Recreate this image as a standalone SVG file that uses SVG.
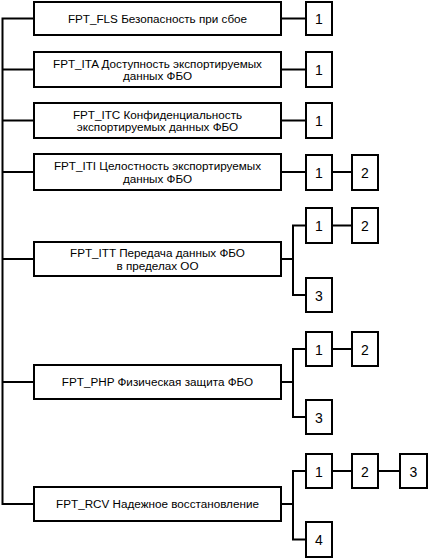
<svg xmlns="http://www.w3.org/2000/svg" width="429" height="559" viewBox="0 0 429 559">
<style>
.b{fill:#fff;stroke:#000;stroke-width:2}
.t{font-family:"Liberation Sans",Arial,sans-serif;font-size:11.7px;fill:#000;text-anchor:middle}
.n{font-family:"Liberation Sans",Arial,sans-serif;font-size:14px;fill:#000;text-anchor:middle}
.c{fill:none;stroke:#000;stroke-width:2}
</style>
<rect width="429" height="559" fill="#fff"/>
<g id="connectors" class="c">
<path d="M34 18.5H2.5V504H34"/>
<path d="M2.5 69.5H34M2.5 120.5H34M2.5 172H34M2.5 259H34M2.5 382H34"/>
<path d="M281 18.5H306M281 69.5H306M281 120.5H306M281 172H306M332 172H352"/>
<path d="M281 259H293M306 225.5H293V295H306M332 225.5H352"/>
<path d="M281 382H293M306 349H293V417H306M332 349H352"/>
<path d="M281 504H293M306 471H293V539.5H306M332 471H352M378 471H400"/>
</g>
<g id="fls">
<rect class="b" x="34" y="2" width="247" height="33"/>
<text class="t" x="157.5" y="22.5">FPT_FLS Безопасность при сбое</text>
</g>
<g id="fls1"><rect class="b" x="306" y="2" width="26" height="33"/><text class="n" x="319" y="24">1</text></g>
<g id="ita">
<rect class="b" x="34" y="52" width="247" height="35"/>
<text class="t" x="157.5" y="67.5">FPT_ITA Доступность экспортируемых</text>
<text class="t" x="157.5" y="80">данных ФБО</text>
</g>
<g id="ita1"><rect class="b" x="306" y="52" width="26" height="35"/><text class="n" x="319" y="75">1</text></g>
<g id="itc">
<rect class="b" x="34" y="103" width="247" height="35"/>
<text class="t" x="157.5" y="118.5">FPT_ITC Конфиденциальность</text>
<text class="t" x="157.5" y="131">экспортируемых данных ФБО</text>
</g>
<g id="itc1"><rect class="b" x="306" y="103" width="26" height="35"/><text class="n" x="319" y="126">1</text></g>
<g id="iti">
<rect class="b" x="34" y="154" width="247" height="36"/>
<text class="t" x="157.5" y="170">FPT_ITI Целостность экспортируемых</text>
<text class="t" x="157.5" y="182.5">данных ФБО</text>
</g>
<g id="iti1"><rect class="b" x="306" y="155" width="26" height="35"/><text class="n" x="319" y="178">1</text></g>
<g id="iti2"><rect class="b" x="352" y="155" width="26" height="35"/><text class="n" x="365" y="178">2</text></g>
<g id="itt">
<rect class="b" x="34" y="242" width="247" height="34"/>
<text class="t" x="157.5" y="257">FPT_ITT Передача данных ФБО</text>
<text class="t" x="157.5" y="269.5">в пределах ОО</text>
</g>
<g id="itt1"><rect class="b" x="306" y="208" width="26" height="35"/><text class="n" x="319" y="231">1</text></g>
<g id="itt2"><rect class="b" x="352" y="208" width="26" height="35"/><text class="n" x="365" y="231">2</text></g>
<g id="itt3"><rect class="b" x="306" y="278" width="26" height="34"/><text class="n" x="319" y="300.5">3</text></g>
<g id="php">
<rect class="b" x="34" y="365" width="247" height="34"/>
<text class="t" x="157.5" y="386">FPT_PHP Физическая защита ФБО</text>
</g>
<g id="php1"><rect class="b" x="306" y="332" width="26" height="34"/><text class="n" x="319" y="354.5">1</text></g>
<g id="php2"><rect class="b" x="352" y="332" width="26" height="34"/><text class="n" x="365" y="354.5">2</text></g>
<g id="php3"><rect class="b" x="306" y="400" width="26" height="34"/><text class="n" x="319" y="422.5">3</text></g>
<g id="rcv">
<rect class="b" x="34" y="487" width="247" height="34"/>
<text class="t" x="157.5" y="508">FPT_RCV Надежное восстановление</text>
</g>
<g id="rcv1"><rect class="b" x="306" y="454" width="26" height="34"/><text class="n" x="319" y="476.5">1</text></g>
<g id="rcv2"><rect class="b" x="352" y="454" width="26" height="34"/><text class="n" x="365" y="476.5">2</text></g>
<g id="rcv3"><rect class="b" x="400" y="454" width="27" height="34"/><text class="n" x="413.5" y="476.5">3</text></g>
<g id="rcv4"><rect class="b" x="306" y="522" width="26" height="35"/><text class="n" x="319" y="545">4</text></g>
</svg>
